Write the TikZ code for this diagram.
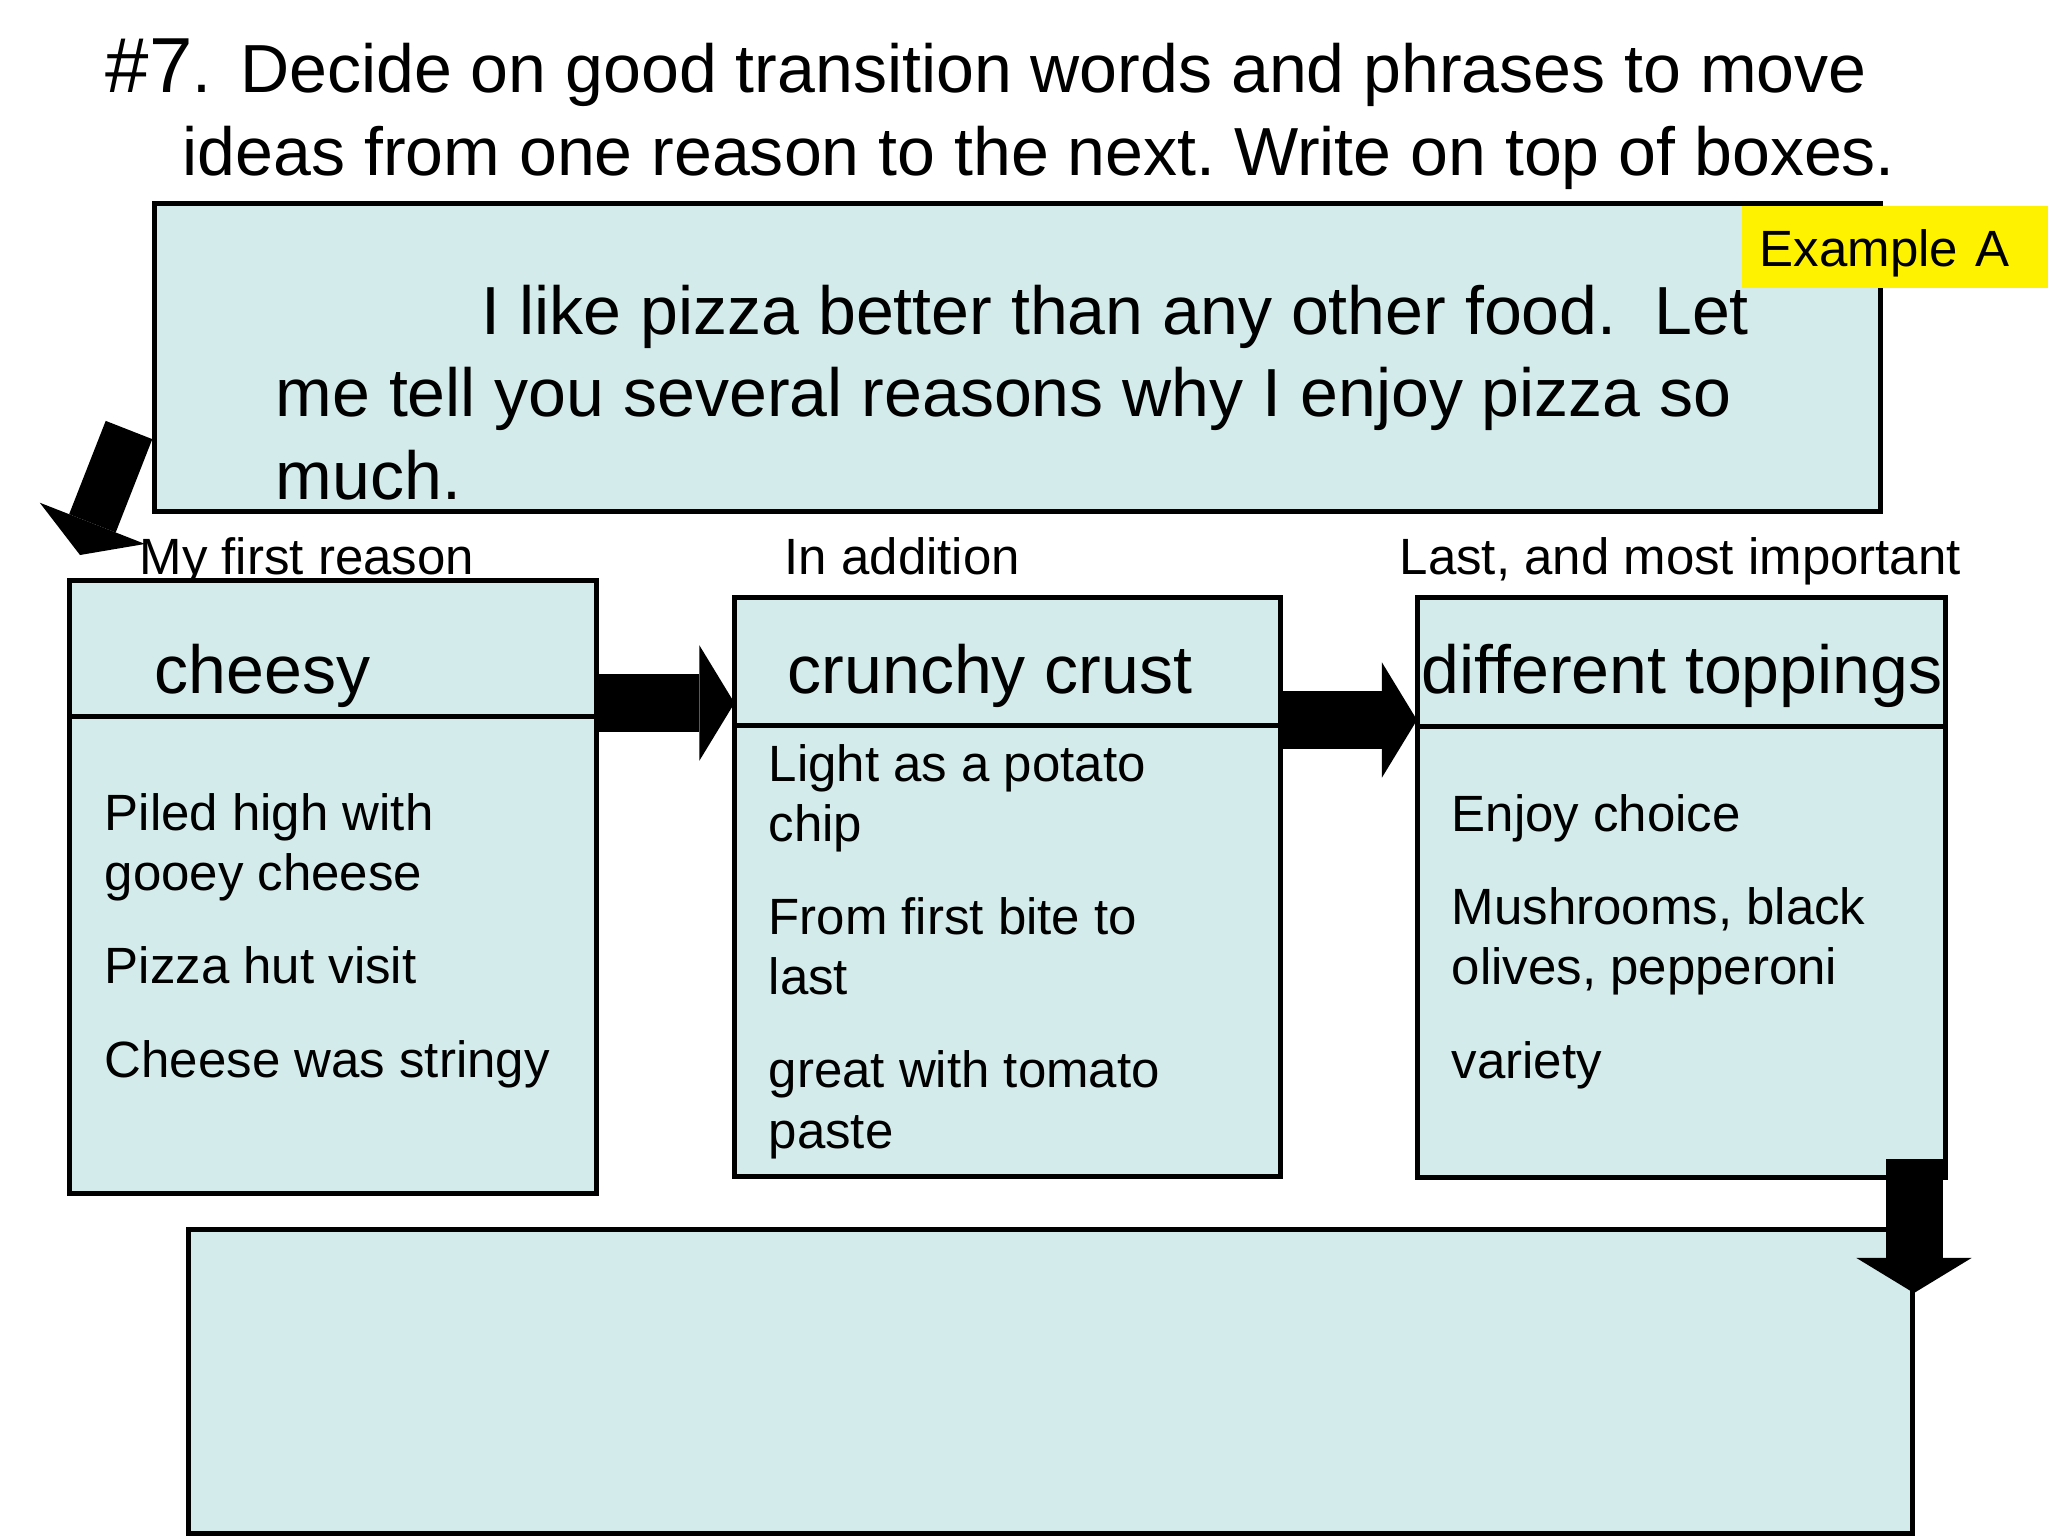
\documentclass[tikz,border=0pt]{standalone}
\usepackage{fontspec}
\setmainfont{Liberation Sans}
\usetikzlibrary{arrows.meta}
\definecolor{boxfill}{RGB}{211,235,234}

\begin{document}
\frenchspacing
\begin{tikzpicture}[x=0.01cm,y=-0.01cm,
    card/.style={draw=black,line width=0.05cm,fill=boxfill,inner sep=0pt,outer sep=0pt,anchor=north west},
    big/.style={font=\fontsize{19.35}{23.35}\selectfont,inner sep=0pt,anchor=base west,align=left},
    small/.style={font=\fontsize{14.5}{17.07}\selectfont,inner sep=0pt,anchor=base west,align=left},
    tag/.style={fill=yellow,anchor=north west,font=\fontsize{14.5}{17.07}\selectfont,text width=2.71cm,
        inner xsep=0.18cm,inner ysep=0.185cm,text height=0.415cm,text depth=0.035cm,align=left},
    fat/.style={line width=0.57cm,-{Triangle[width=1.15cm,length=0.35cm,line width=0pt]}},
    slim/.style={line width=0.5cm,-{Triangle[width=1.13cm,length=0.34cm,line width=0pt]}}]
    \useasboundingbox (0,0) rectangle (2048,1536);

    % multi-line nodes sit on the baseline of their last line
    \node[big,font=\fontsize{19.35}{23.6}\selectfont] (title) at (105,175)
        {{\fontsize{22.2}{26}\selectfont\#7}.\hspace{0.1cm} Decide on good transition words and phrases to move\\
        \hspace*{0.77cm}ideas from one reason to the next. Write on top of boxes.};

    % arrow out of the opening box
    \coordinate (s0) at (129,430);
    \coordinate (s1) at (80,555);
    \draw[slim] (s0) -- (s1);

    \node[card,minimum width=17.245cm,minimum height=3.075cm] (intro) at (154.5,203.5) {};
    \node[big] (introtext) at (275,499)
        {\hspace*{2.06cm}I like pizza better than any other food.\ \ Let\\
        me tell you several reasons why I enjoy pizza so\\
        much.};
    \node[tag] (exA) at (1741,205.5) {Example A};

    \node[small] (lab1) at (139,574) {My first reason};
    \node[small] (lab2) at (784,574) {In addition};
    \node[small] (lab3) at (1399,574) {Last, and most important};

    \node[card,minimum width=5.27cm,minimum height=6.13cm] (cheese) at (69.5,580) {};
    \node[card,minimum width=5.455cm,minimum height=5.79cm] (crust) at (734.5,597) {};
    \node[card,minimum width=5.285cm,minimum height=5.805cm] (toppings) at (1417,597) {};
    \draw[line width=0.05cm] (cheese.west |- 0,716.5) -- (cheese.east |- 0,716.5);
    \draw[line width=0.05cm] (crust.west |- 0,725.5) -- (crust.east |- 0,725.5);
    \draw[line width=0.05cm] (toppings.west |- 0,726) -- (toppings.east |- 0,726);

    \node[big] (h1) at (154,693) {cheesy};
    \node[big] (h2) at (787,693) {crunchy crust};
    \node[big] (h3) at (1421,693) {different toppings};

    \node[small] (t1) at (104,1077)
        {Piled high with\\gooey cheese\\[0.33cm]Pizza hut visit\\[0.33cm]Cheese was stringy};
    \node[small] (t2) at (768,1148)
        {Light as a potato\\chip\\[0.33cm]From first bite to\\last\\[0.33cm]great with tomato\\paste};
    \node[small] (t3) at (1451,1078)
        {Enjoy choice\\[0.33cm]Mushrooms, black\\olives, pepperoni\\[0.33cm]variety};

    \node[card,minimum width=17.23cm,minimum height=3.04cm] (ending) at (188,1229) {};

    \draw[fat] (cheese.east |- 0,703) -- (crust.west |- 0,703);
    \draw[fat] (crust.east |- 0,720) -- (toppings.west |- 0,720);
    \coordinate (d0) at (1914,1159);
    \coordinate (d1) at (1914,1293);
    \draw[fat] (d0) -- (d1);
\end{tikzpicture}
\end{document}
